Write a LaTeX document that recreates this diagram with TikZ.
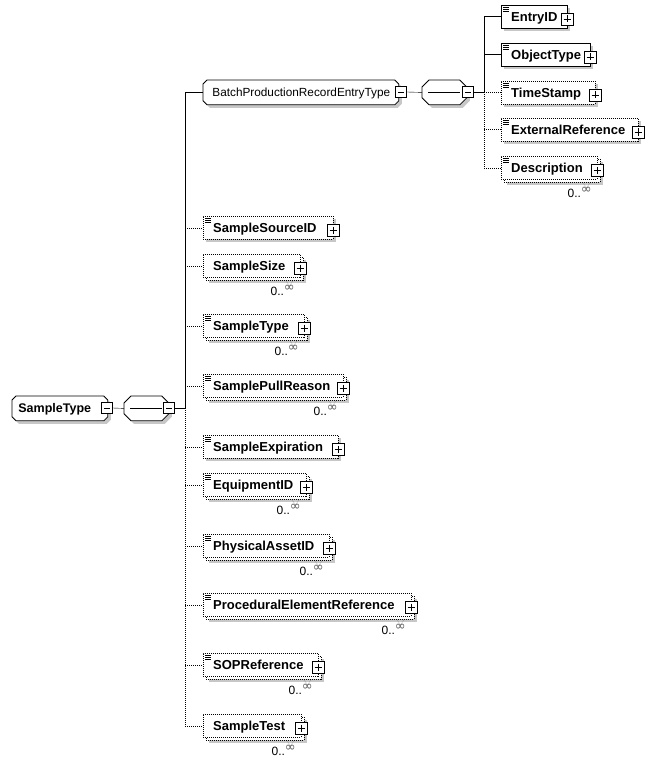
\documentclass[tikz,border=0pt]{standalone}
\usepackage{fontspec}
\setmainfont{Liberation Sans}
\newfontfamily\djv{DejaVu Sans}
\usetikzlibrary{shadows,backgrounds}
\newcommand\elembox[6]{%
  \pgfmathsetmacro\tw{#4-#2-20}%
  \node[elem,#5,text width=\tw pt] (#1) at (#2,#3) {#6};%
  \node[plusbox] (#1p) at (#4,#3+14) {};%
}
\newcommand\backbox[4]{%
  \pgfmathsetmacro\ew{#4-#2}%
  \node[elem,opt,shad,minimum width=\ew pt] (#1b) at (#2+3,#3+3) {};%
}
\newcommand\docicon[1]{%
  \draw[line width=.5pt] ([xshift=2pt,yshift=-2pt]#1.north west) -- ++(6,0)
    ([xshift=2pt,yshift=-4pt]#1.north west) -- ++(6,0)
    ([xshift=2pt,yshift=-6pt]#1.north west) -- ++(6,0);%
}
\newcommand\cardtxt[3]{%
  \node[cardst] (#1c) at (#2-5,#3+41) {0..\raisebox{4pt}{\djv\fontsize{13}{13}\selectfont\color{black!65}∞}};%
  \draw[black!45,line width=.5pt,dash pattern=on .8pt off .8pt] (#2-14,#3+27) -- (#2-10.5,#3+32) -- (#2-7,#3+27);%
}
\newcommand\octo[3]{%
  \path[#3] ([xshift=#2]#1.north west) -- ([xshift=-#2]#1.north east) -- ([yshift=-#2]#1.north east)
   -- ([yshift=#2]#1.south east) -- ([xshift=-#2]#1.south east) -- ([xshift=#2]#1.south west)
   -- ([yshift=#2]#1.south west) -- ([yshift=-#2]#1.north west) -- cycle;%
}
\begin{document}
\begin{tikzpicture}[x=1pt,y=-1pt,line width=.8pt,
  every node/.style={font=\fontsize{12}{14}\selectfont},
  opt/.style={dash pattern=on 1pt off 1pt},
  shad/.style={drop shadow={shadow xshift=3pt,shadow yshift=-3pt,fill=black!22,draw=none,opacity=1}},
  elem/.style={draw,fill=white,anchor=north west,minimum height=23pt,inner ysep=0pt,inner xsep=10pt,
    align=left,text height=9.3pt,text depth=0pt,font=\fontsize{13}{15}\selectfont\bfseries},
  tnode/.style={anchor=north west,minimum height=24pt,inner ysep=0pt,align=left,text height=8.8pt,text depth=0pt},
  pm/.style={draw,fill=white,minimum size=12pt,inner sep=0pt,line width=.7pt},
  plusbox/.style={pm,drop shadow={shadow xshift=1.3pt,shadow yshift=-1.3pt,fill=black,draw=none,opacity=1},
    path picture={\draw[line width=.7pt] ([xshift=2.5pt]path picture bounding box.west) -- ([xshift=-2.5pt]path picture bounding box.east)
      ([yshift=-2.5pt]path picture bounding box.north) -- ([yshift=2.5pt]path picture bounding box.south);}},
  minusbox/.style={pm,minimum size=11pt,
    path picture={\draw[line width=.7pt] ([xshift=2.5pt]path picture bounding box.west) -- ([xshift=-2.5pt]path picture bounding box.east);}},
  octst/.style={draw,fill=white,line width=.8pt},
  cardst/.style={anchor=base east,inner sep=0pt},
]
\useasboundingbox (0,0) rectangle (654,765);

% ---- type and compositor nodes
\node[tnode,font=\fontsize{12.5}{14}\selectfont\bfseries,text width=83pt,inner xsep=6pt] (root) at (12,396) {SampleType};
\node[tnode,minimum width=44pt] (seq1) at (124,396) {};
\node[tnode,font=\fontsize{11.8}{14}\selectfont,text width=177pt,inner xsep=9pt] (bp) at (203,80) {BatchProductionRecordEntryType};
\node[tnode,minimum width=44pt] (seq2) at (422,80) {};
\begin{pgfonlayer}{background}
  \octo{root}{4pt}{octst,shad}
  \octo{seq1}{7pt}{octst,shad}
  \octo{bp}{4pt}{octst,shad}
  \octo{seq2}{7pt}{octst,shad}
\end{pgfonlayer}
\draw ([xshift=6pt]seq1.west) -- ([xshift=-7pt]seq1.east);
\draw ([xshift=6pt]seq2.west) -- ([xshift=-7pt]seq2.east);
\node[minusbox] (rootm) at (107,408) {};
\node[minusbox] (seq1m) at (169,408) {};
\node[minusbox] (bpm) at (401,92) {};
\node[minusbox] (seq2m) at (468,92) {};

% ---- children of BatchProductionRecordEntryType
\elembox{entryid}{501}{5}{567}{shad}{EntryID}\docicon{entryid}
\elembox{objtype}{501}{43}{590}{shad}{ObjectType}\docicon{objtype}
\elembox{timestamp}{501}{81}{595}{opt,shad}{TimeStamp}\docicon{timestamp}
\elembox{extref}{501}{118}{638}{opt,shad}{ExternalReference}\docicon{extref}
\backbox{desc}{501}{156}{597}
\elembox{desc}{501}{156}{597}{opt}{Description}\docicon{desc}\cardtxt{desc}{597}{156}

% ---- children of SampleType
\elembox{srcid}{203}{216}{333}{opt,shad}{SampleSourceID}\docicon{srcid}
\backbox{size}{203}{254}{300}
\elembox{size}{203}{254}{300}{opt}{SampleSize}\cardtxt{size}{300}{254}
\backbox{stype}{203}{314}{304}
\elembox{stype}{203}{314}{304}{opt}{SampleType}\docicon{stype}\cardtxt{stype}{304}{314}
\backbox{pull}{203}{374}{343}
\elembox{pull}{203}{374}{343}{opt}{SamplePullReason}\docicon{pull}\cardtxt{pull}{343}{374}
\elembox{expir}{203}{435}{338}{opt,shad}{SampleExpiration}\docicon{expir}
\backbox{equip}{203}{473}{306}
\elembox{equip}{203}{473}{306}{opt}{EquipmentID}\docicon{equip}\cardtxt{equip}{306}{473}
\backbox{phys}{203}{534}{329}
\elembox{phys}{203}{534}{329}{opt}{PhysicalAssetID}\docicon{phys}\cardtxt{phys}{329}{534}
\backbox{proc}{203}{593}{411}
\elembox{proc}{203}{593}{411}{opt}{ProceduralElementReference}\docicon{proc}\cardtxt{proc}{411}{593}
\backbox{sop}{203}{653}{318}
\elembox{sop}{203}{653}{318}{opt}{SOPReference}\docicon{sop}\cardtxt{sop}{318}{653}
\backbox{test}{203}{714}{301}
\elembox{test}{203}{714}{301}{opt}{SampleTest}\cardtxt{test}{301}{714}

% ---- connectors
\coordinate (v1) at (185,408);
\coordinate (v2) at (484,92);
\draw (rootm.east) -- (seq1.west);
\draw (seq1m.east) -- (v1);
\draw (v1 |- bp.west) -- (v1);
\draw[opt] (v1) -- (v1 |- test.west);
\draw (v1 |- bp.west) -- (bp.west);
\foreach \n in {srcid,size,stype,pull,expir,equip,phys,proc,sop,test}
  \draw[opt] (v1 |- \n.west) -- (\n.west);
\draw (bpm.east) -- (seq2.west);
\draw (seq2m.east) -- (v2);
\draw (v2 |- entryid.west) -- (v2);
\draw[opt] (v2) -- (v2 |- desc.west);
\draw (v2 |- entryid.west) -- (entryid.west);
\draw (v2 |- objtype.west) -- (objtype.west);
\foreach \n in {timestamp,extref,desc}
  \draw[opt] (v2 |- \n.west) -- (\n.west);
\end{tikzpicture}
\end{document}
